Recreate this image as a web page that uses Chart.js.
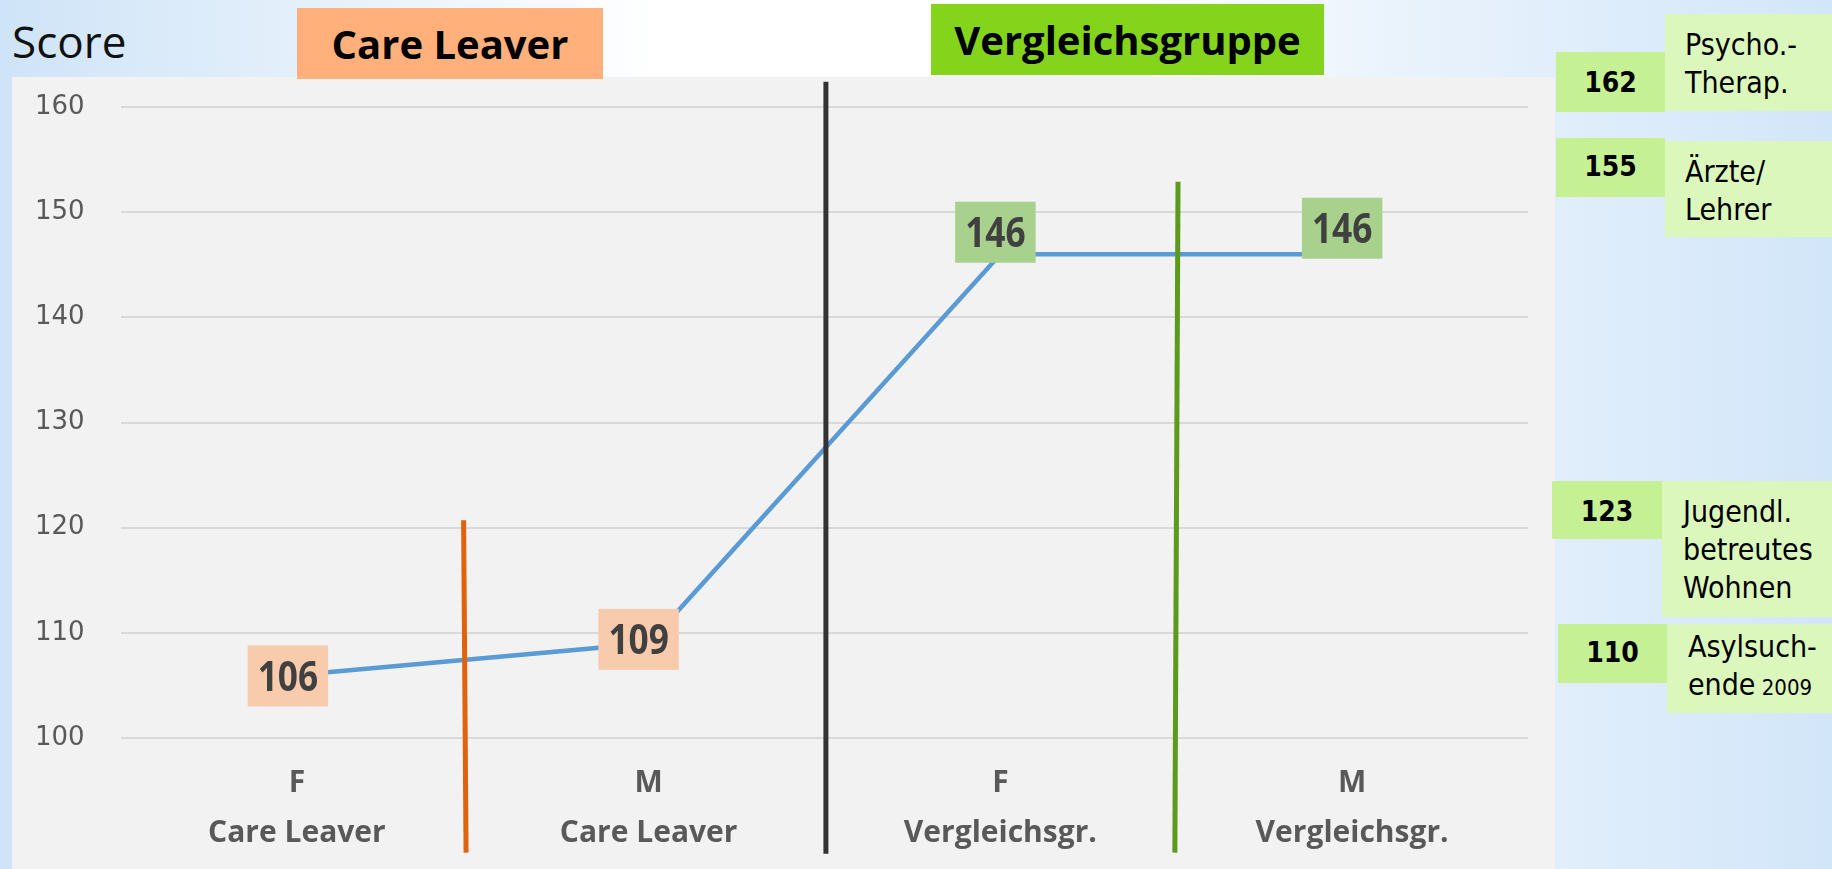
<!DOCTYPE html>
<html lang="de">
<head>
<meta charset="utf-8">
<title>Score – Care Leaver / Vergleichsgruppe</title>
<script src="https://cdn.jsdelivr.net/npm/chart.js@4.4.1/dist/chart.umd.min.js"></script>
<style>
  html, body { margin: 0; padding: 0; }
  body {
    width: 1832px; height: 869px; position: relative; overflow: hidden;
    font-family: "Open Sans", sans-serif;
    background: linear-gradient(90deg, #cfe4f8 0%, #e6f1fb 18%, #ffffff 36%, #ffffff 62%, #eaf3fc 76%, #d2e6f9 100%);
  }
  #plotBg { position: absolute; left: 12px; top: 77px; width: 1543px; height: 792px; background: #f2f2f2; }
  #chart { position: absolute; left: 12px; top: 77px; }
  #score { position: absolute; left: 12px; top: 19px; font-size: 44px; line-height: 44px; color: #111; }
  .head {
    position: absolute; height: 71px; display: flex; align-items: center; justify-content: center;
    font-weight: 700; font-size: 40px; color: #000;
  }
  #headCare { left: 297px; top: 8px; width: 306px; background: #ffb07b; }
  #headVerg { left: 931px; top: 4px; width: 393px; background: #84d41c; }
  .refNum { position: absolute; background: #c6f094; }
  .refNum span {
    position: absolute; left: 0; right: 0; text-align: center;
    font-family: "DejaVu Sans Condensed", "DejaVu Sans", sans-serif; font-stretch: condensed;
    font-weight: 700; font-size: 28px; line-height: 28px; color: #000;
  }
  .refLbl { position: absolute; background: #dbf7bc; }
  .refTxt {
    position: absolute;
    font-family: "DejaVu Sans Condensed", "DejaVu Sans", sans-serif; font-stretch: condensed;
    font-size: 30px; line-height: 38px; color: #000; white-space: nowrap;
  }
  .refTxt small { font-size: 22px; }
</style>
</head>
<body>
<div id="plotBg"></div>
<div id="score">Score</div>
<div class="head" id="headCare">Care Leaver</div>
<div class="head" id="headVerg">Vergleichsgruppe</div>
<canvas id="chart" width="1543" height="792"></canvas>
<div id="refs"></div>

<script>
// --- data ---
const categories = [
  ['F', 'Care Leaver'],
  ['M', 'Care Leaver'],
  ['F', 'Vergleichsgr.'],
  ['M', 'Vergleichsgr.'],
];
const scores = [106, 109, 146, 146];
const yMin = 100;
const yMax = 160;
const yStep = 10;

// group dividers: category position (top, bottom) and score range (bottom, top)
const dividerPos = [[0.474, 0.481], [1.504, 1.504], [2.505, 2.496]];
const dividerRange = [[89.1, 120.7], [89.0, 162.4], [89.1, 152.9]];

// reference groups on the right
const refValues = [162, 155, 123, 110];
const refLabels = [
  ['Psycho.-', 'Therap.'],
  ['Ärzte/', 'Lehrer'],
  ['Jugendl.', 'betreutes', 'Wohnen'],
  ['Asylsuch-', 'ende'],
];
const refNotes = ['', '', '', '2009'];

// --- reference boxes (layout only) ---
const refBoxes = [
  { num: [1556, 52, 109, 60], numTop: 69, lbl: [1665, 14, 167, 97], txt: [1685, 26] },
  { num: [1556, 138, 109, 59], numTop: 153, lbl: [1665, 141, 167, 96], txt: [1685, 153] },
  { num: [1552, 481, 110, 58], numTop: 498, lbl: [1662, 481, 170, 136], txt: [1683, 493] },
  { num: [1558, 624, 109, 59], numTop: 639, lbl: [1667, 624, 165, 89], txt: [1688, 628] },
];

const refs = document.getElementById('refs');
refBoxes.forEach((b, i) => {
  const lbl = document.createElement('div');
  lbl.className = 'refLbl';
  lbl.style.cssText = `left:${b.lbl[0]}px;top:${b.lbl[1]}px;width:${b.lbl[2]}px;height:${b.lbl[3]}px`;
  refs.appendChild(lbl);

  const num = document.createElement('div');
  num.className = 'refNum';
  num.style.cssText = `left:${b.num[0]}px;top:${b.num[1]}px;width:${b.num[2]}px;height:${b.num[3]}px`;
  const span = document.createElement('span');
  span.style.top = (b.numTop - b.num[1]) + 'px';
  span.textContent = refValues[i];
  num.appendChild(span);
  refs.appendChild(num);

  const txt = document.createElement('div');
  txt.className = 'refTxt';
  txt.style.cssText = `left:${b.txt[0]}px;top:${b.txt[1]}px`;
  refLabels[i].forEach((line, k) => {
    const row = document.createElement('div');
    row.textContent = line;
    if (k === refLabels[i].length - 1 && refNotes[i]) {
      const sm = document.createElement('small');
      sm.textContent = ' ' + refNotes[i];
      row.appendChild(sm);
    }
    txt.appendChild(row);
  });
  refs.appendChild(txt);
});

// --- overlay: group dividers + boxed value labels ---
const overlay = {
  id: 'overlay',
  afterDatasetsDraw(chart, args, opts) {
    const { ctx, scales: { x, y } } = chart;
    ctx.save();
    dividerPos.forEach((p, i) => {
      ctx.beginPath();
      ctx.strokeStyle = opts.dividerColors[i];
      ctx.lineWidth = opts.dividerWidth;
      ctx.moveTo(x.getPixelForValue(p[0]), y.getPixelForValue(dividerRange[i][1]));
      ctx.lineTo(x.getPixelForValue(p[1]), y.getPixelForValue(dividerRange[i][0]));
      ctx.stroke();
    });

    const meta = chart.getDatasetMeta(0);
    ctx.font = `700 ${opts.fontSize}px "Open Sans", sans-serif`;
    ctx.textAlign = 'center';
    ctx.textBaseline = 'alphabetic';
    meta.data.forEach((pt, i) => {
      const txt = String(scores[i]);
      const [dx, dy] = opts.offsets[i];
      const cx = pt.x + dx, cy = pt.y + dy;
      const w = ctx.measureText(txt).width * opts.hScale + opts.padX * 2;
      const h = opts.boxH;
      ctx.fillStyle = opts.fills[i];
      ctx.fillRect(cx - w / 2, cy - h / 2, w, h);
      ctx.save();
      ctx.translate(cx, cy + opts.fontSize * 0.714 / 2);
      ctx.scale(opts.hScale, 1);
      ctx.fillStyle = '#404040';
      ctx.fillText(txt, 0, 0);
      ctx.restore();
    });
    ctx.restore();
  },
};

new Chart(document.getElementById('chart'), {
  type: 'line',
  data: {
    labels: categories,
    datasets: [{
      data: scores,
      borderColor: '#5b9bd5',
      borderWidth: 4.5,
      pointRadius: 0,
      tension: 0,
    }],
  },
  options: {
    responsive: false,
    animation: false,
    layout: { padding: { top: 30, right: 27, left: 23, bottom: 0 } },
    plugins: {
      legend: { display: false },
      tooltip: { enabled: false },
      overlay: {
        dividerColors: ['#e0620c', '#333333', '#5b9a1a'],
        dividerWidth: 5,
        fills: ['#f8cbad', '#f8cbad', '#a9d18e', '#a9d18e'],
        offsets: [[-9, 1], [-10, -4], [-5, -22], [-10, -26]],
        fontSize: 41,
        hScale: 0.86,
        padX: 10,
        boxH: 61,
      },
    },
    scales: {
      x: {
        offset: true,
        grid: { display: false, drawTicks: false, tickLength: 0 },
        border: { display: false },
        afterFit: (s) => { s.height = 131; },
        ticks: {
          color: '#595959',
          padding: 20,
          maxRotation: 0,
          autoSkip: false,
          font: { family: '"Open Sans", sans-serif', size: 30, weight: '700', lineHeight: 1.667 },
        },
      },
      y: {
        min: yMin,
        max: yMax,
        grid: { color: '#d9d9d9', lineWidth: 2, drawTicks: false, tickLength: 0 },
        border: { display: false },
        afterFit: (s) => { s.width = 86; },
        ticks: {
          stepSize: yStep,
          color: '#595959',
          padding: 0,
          crossAlign: 'far',
          font: { family: '"DejaVu Sans", sans-serif', size: 26 },
        },
      },
    },
  },
  plugins: [overlay],
});
</script>
</body>
</html>
